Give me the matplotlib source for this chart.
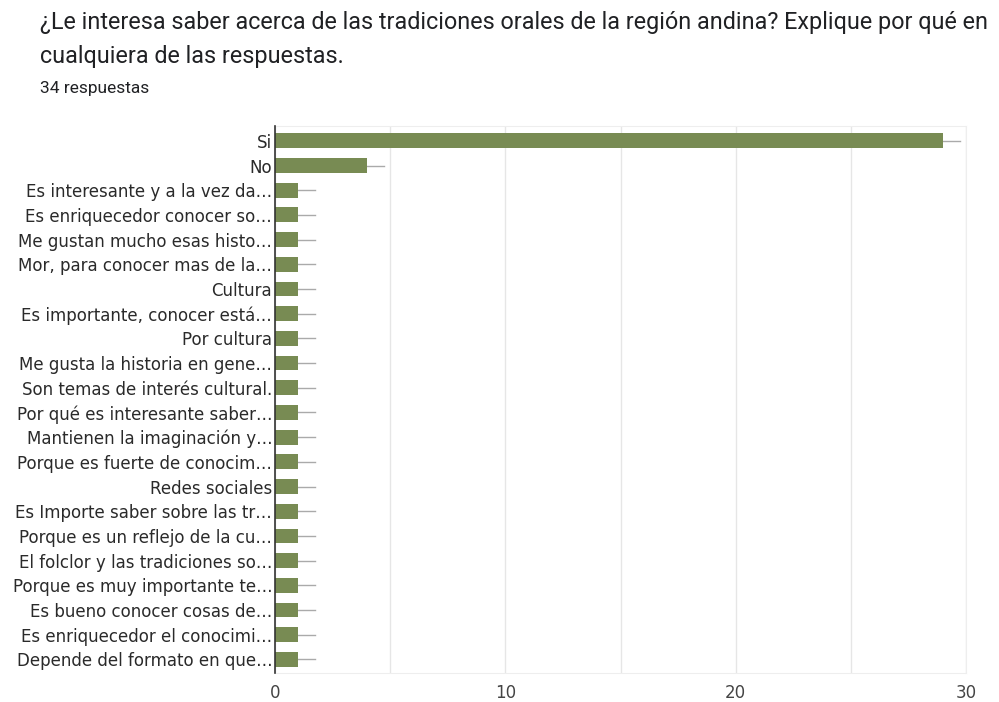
import matplotlib
matplotlib.use("Agg")
import matplotlib.pyplot as plt

categories = [
    "Si", "No",
    "Es interesante y a la vez da…",
    "Es enriquecedor conocer so…",
    "Me gustan mucho esas histo…",
    "Mor, para conocer mas de la…",
    "Cultura",
    "Es importante, conocer está…",
    "Por cultura",
    "Me gusta la historia en gene…",
    "Son temas de interés cultural.",
    "Por qué es interesante saber…",
    "Mantienen la imaginación y…",
    "Porque es fuerte de conocim…",
    "Redes sociales",
    "Es Importe saber sobre las tr…",
    "Porque es un reflejo de la cu…",
    "El folclor y las tradiciones so…",
    "Porque es muy importante te…",
    "Es bueno conocer cosas de…",
    "Es enriquecedor el conocimi…",
    "Depende del formato en que…",
]
values = [29, 4] + [1] * 20
xticks = [0, 10, 20, 30]

title = "¿Le interesa saber acerca de las tradiciones orales de la región andina? Explique por qué en\ncualquiera de las respuestas."
subtitle = "34 respuestas"

fig = plt.figure(figsize=(9.99, 7.02), dpi=100)
ax = fig.add_axes([275/999, 1-673/702, (966-275)/999, (673-126)/702])

n = len(categories)
ys = list(range(n))
ax.barh(ys, values, height=0.6, color="#788b53", zorder=3)
for y, v in zip(ys, values):
    ax.plot([v, v + 0.74], [y, y], color="#aaaaaa", lw=1, zorder=2)

ax.set_ylim(n - 1 + 0.55, -0.6)
ax.set_xlim(0, 30)
ax.set_yticks(ys)
ax.set_yticklabels(categories, fontsize=12, family="DejaVu Sans", color="#2a2a2a")
ax.set_xticks(xticks)
ax.set_xticklabels([str(t) for t in xticks], fontsize=12, family="DejaVu Sans", color="#444444")
ax.set_xticks([5, 15, 25], minor=True)
ax.tick_params(axis="both", which="both", length=0)
ax.tick_params(axis="y", pad=2)
ax.tick_params(axis="x", pad=8)
ax.grid(axis="x", which="both", color="#e6e6e6", lw=1, zorder=0)
for s in ["top", "right", "bottom"]:
    ax.spines[s].set_color("#eeeeee")
ax.spines["left"].set_color("#333333")
ax.spines["left"].set_linewidth(1.2)
ax.spines["left"].set_zorder(4)

fig.text(40/999, 1-11/702, title, ha="left", va="top", fontsize=16.8, family="Roboto",
         color="#202124", linespacing=1.6)
fig.text(40/999, 1-88/702, subtitle, ha="left", va="center", fontsize=12.5, family="Roboto",
         color="#202124")

fig.savefig("out.png", dpi=100)
